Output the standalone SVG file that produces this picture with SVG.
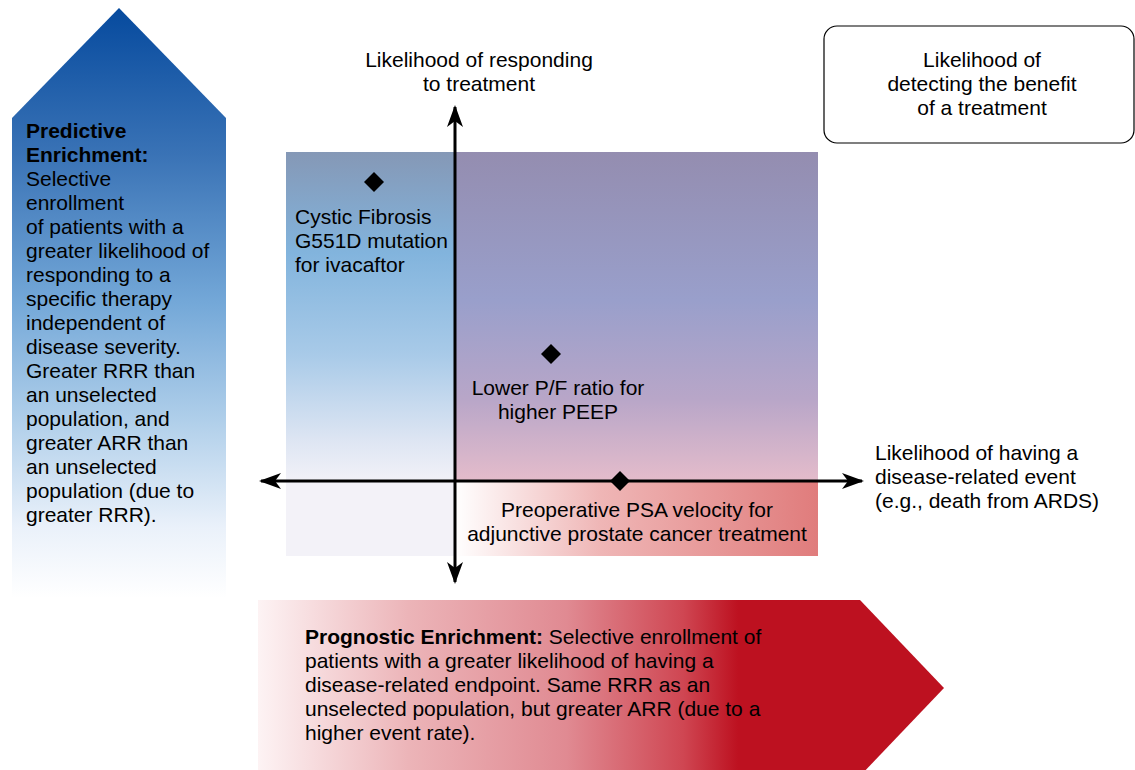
<svg xmlns="http://www.w3.org/2000/svg" width="1135" height="770" viewBox="0 0 1135 770">
  <style>
    text { font-family: "Liberation Sans", Arial, Helvetica, sans-serif; font-size: 21px; fill: #000; }
    .b { font-weight: bold; }
    .c { text-anchor: middle; }
    .axis { stroke: #000; stroke-width: 3; fill: none; }
    .dot { fill: #000; }
  </style>
  <defs>
    <linearGradient id="blueArrow" x1="0" y1="0" x2="0" y2="1">
      <stop offset="0" stop-color="#064a9e"/>
      <stop offset="0.25" stop-color="#3a73b6"/>
      <stop offset="0.5" stop-color="#74a8d8"/>
      <stop offset="0.7" stop-color="#b0cfea"/>
      <stop offset="0.88" stop-color="#eaf1fa"/>
      <stop offset="1" stop-color="#ffffff"/>
    </linearGradient>
    <linearGradient id="redArrow" x1="0" y1="0" x2="1" y2="0">
      <stop offset="0" stop-color="#fdf3f4"/>
      <stop offset="0.22" stop-color="#ecb4b8"/>
      <stop offset="0.45" stop-color="#e08a92"/>
      <stop offset="0.62" stop-color="#cf4652"/>
      <stop offset="0.7" stop-color="#bd1120"/>
      <stop offset="1" stop-color="#bd1120"/>
    </linearGradient>
    <linearGradient id="leftCol" x1="0" y1="0" x2="0" y2="1">
      <stop offset="0" stop-color="#8598b6"/>
      <stop offset="0.25" stop-color="#82b4dd"/>
      <stop offset="0.5" stop-color="#a8cae8"/>
      <stop offset="0.72" stop-color="#dfe6f3"/>
      <stop offset="0.82" stop-color="#f3f2f8"/>
      <stop offset="1" stop-color="#f3f2f8"/>
    </linearGradient>
    <linearGradient id="rightTop" x1="0" y1="0" x2="0" y2="1">
      <stop offset="0" stop-color="#948db0"/>
      <stop offset="0.45" stop-color="#999fcb"/>
      <stop offset="0.75" stop-color="#b8a6c8"/>
      <stop offset="1" stop-color="#e4bccb"/>
    </linearGradient>
    <linearGradient id="rightBottom" x1="0" y1="0" x2="1" y2="0">
      <stop offset="0" stop-color="#ffffff"/>
      <stop offset="0.4" stop-color="#efb6b6"/>
      <stop offset="1" stop-color="#e07c7c"/>
    </linearGradient>
    <marker id="arr" viewBox="0 0 22 16" refX="20" refY="8" markerWidth="22" markerHeight="16" markerUnits="userSpaceOnUse" orient="auto-start-reverse">
      <path d="M0,0 L22,8 L0,16 L6,8 Z" fill="#000"/>
    </marker>
  </defs>

  <g id="predictive-enrichment">
    <polygon points="12,118 119,8 226,118 226,598 12,598" fill="url(#blueArrow)"/>
    <text x="26" y="138"><tspan class="b">Predictive</tspan><tspan class="b" x="26" dy="24">Enrichment:</tspan><tspan x="26" dy="24">Selective</tspan><tspan x="26" dy="24">enrollment</tspan><tspan x="26" dy="24">of patients with a</tspan><tspan x="26" dy="24">greater likelihood of</tspan><tspan x="26" dy="24">responding to a</tspan><tspan x="26" dy="24">specific therapy</tspan><tspan x="26" dy="24">independent of</tspan><tspan x="26" dy="24">disease severity.</tspan><tspan x="26" dy="24">Greater RRR than</tspan><tspan x="26" dy="24">an unselected</tspan><tspan x="26" dy="24">population, and</tspan><tspan x="26" dy="24">greater ARR than</tspan><tspan x="26" dy="24">an unselected</tspan><tspan x="26" dy="24">population (due to</tspan><tspan x="26" dy="24">greater RRR).</tspan></text>
  </g>

  <g id="prognostic-enrichment">
    <polygon points="258,600 860,600 944,688 860,776 258,776" fill="url(#redArrow)"/>
    <text x="305" y="644"><tspan class="b">Prognostic Enrichment:</tspan> Selective enrollment of<tspan x="305" dy="24">patients with a greater likelihood of having a</tspan><tspan x="305" dy="24">disease-related endpoint. Same RRR as an</tspan><tspan x="305" dy="24">unselected population, but greater ARR (due to a</tspan><tspan x="305" dy="24">higher event rate).</tspan></text>
  </g>

  <g id="quadrant">
    <rect x="286" y="152" width="169" height="404" fill="url(#leftCol)"/>
    <rect x="455" y="152" width="363" height="329" fill="url(#rightTop)"/>
    <rect x="455" y="481" width="363" height="75" fill="url(#rightBottom)"/>
  </g>

  <g id="benefit-box">
    <rect x="824" y="26" width="310" height="117" rx="13" ry="13" fill="#fff" stroke="#000" stroke-width="1.2"/>
    <text class="c" x="982" y="67">Likelihood of<tspan x="982" dy="24">detecting the benefit</tspan><tspan x="982" dy="24">of a treatment</tspan></text>
  </g>

  <g id="connectors">
    <line class="axis" x1="455" y1="582" x2="455" y2="107" marker-start="url(#arr)" marker-end="url(#arr)"/>
    <line class="axis" x1="261" y1="481" x2="862" y2="481" marker-start="url(#arr)" marker-end="url(#arr)"/>
  </g>

  <g id="axis-y-label">
    <text class="c" x="479" y="67">Likelihood of responding<tspan x="479" dy="24">to treatment</tspan></text>
  </g>
  <g id="axis-x-label">
    <text x="875" y="460">Likelihood of having a<tspan x="875" dy="24">disease-related event</tspan><tspan x="875" dy="24">(e.g., death from ARDS)</tspan></text>
  </g>

  <g id="cystic-fibrosis">
    <polygon class="dot" points="374,172 384,182 374,192 364,182"/>
    <text x="295" y="224">Cystic Fibrosis<tspan x="295" dy="24">G551D mutation</tspan><tspan x="295" dy="24">for ivacaftor</tspan></text>
  </g>
  <g id="pf-ratio">
    <polygon class="dot" points="551,344 561,354 551,364 541,354"/>
    <text class="c" x="558" y="395">Lower P/F ratio for<tspan x="558" dy="24">higher PEEP</tspan></text>
  </g>
  <g id="psa-velocity">
    <polygon class="dot" points="620,471 630,481 620,491 610,481"/>
    <text class="c" x="637" y="517">Preoperative PSA velocity for<tspan x="637" dy="24">adjunctive prostate cancer treatment</tspan></text>
  </g>
</svg>
